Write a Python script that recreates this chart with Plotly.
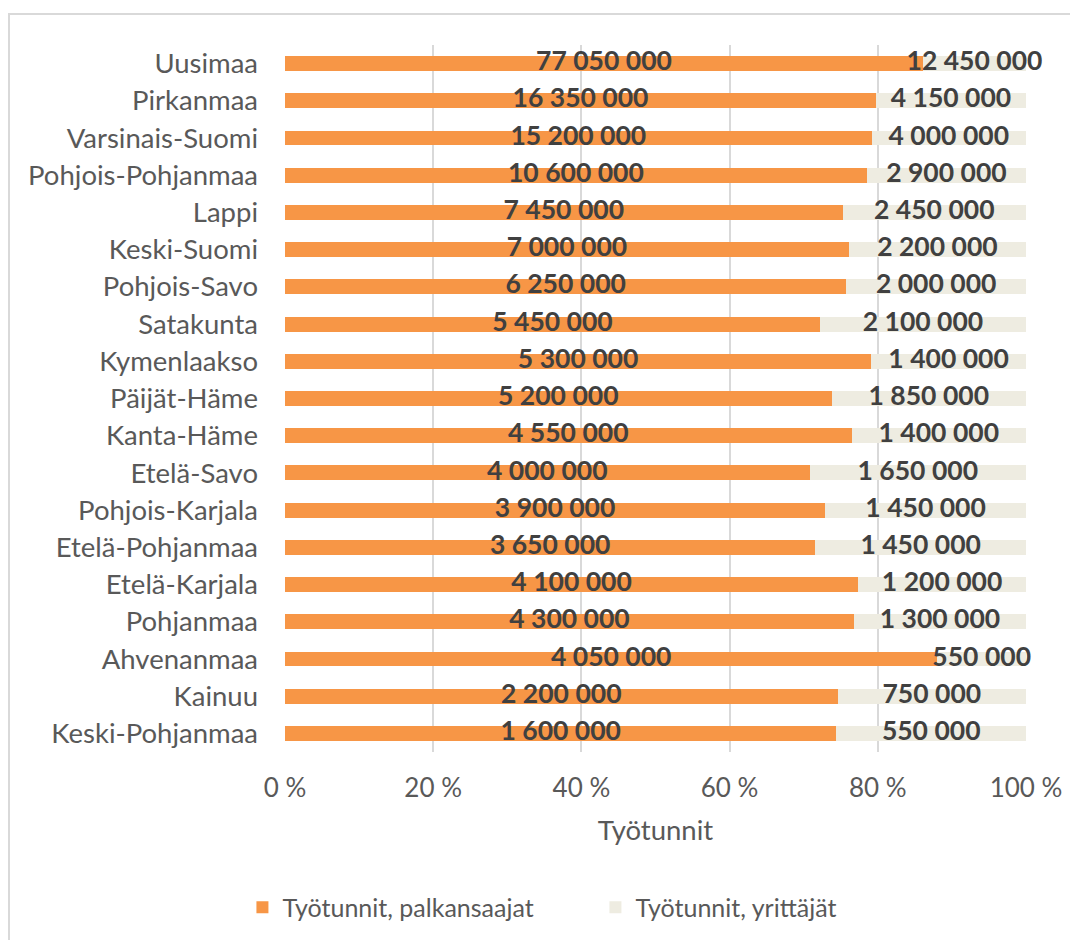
import plotly.graph_objects as go

regions = ["Uusimaa", "Pirkanmaa", "Varsinais-Suomi", "Pohjois-Pohjanmaa", "Lappi",
           "Keski-Suomi", "Pohjois-Savo", "Satakunta", "Kymenlaakso", "Päijät-Häme",
           "Kanta-Häme", "Etelä-Savo", "Pohjois-Karjala", "Etelä-Pohjanmaa",
           "Etelä-Karjala", "Pohjanmaa", "Ahvenanmaa", "Kainuu", "Keski-Pohjanmaa"]
palkansaajat = [77050000, 16350000, 15200000, 10600000, 7450000,
                7000000, 6250000, 5450000, 5300000, 5200000,
                4550000, 4000000, 3900000, 3650000,
                4100000, 4300000, 4050000, 2200000, 1600000]
yrittajat = [12450000, 4150000, 4000000, 2900000, 2450000,
             2200000, 2000000, 2100000, 1400000, 1850000,
             1400000, 1650000, 1450000, 1450000,
             1200000, 1300000, 550000, 750000, 550000]
tick_vals = [0, 20, 40, 60, 80, 100]
tick_text = ["0 %", "20 %", "40 %", "60 %", "80 %", "100 %"]


def fmt(v):
    return f"{v:,}".replace(",", " ")


FONT = "Lato, 'Open Sans', sans-serif"
GREY = "#595959"
label_font = dict(family=FONT, size=26.5, color="#404040", weight="bold")

# shares (percent) for label placement at the centre of each stacked segment
totals = [p + y for p, y in zip(palkansaajat, yrittajat)]
palk_pct = [100 * p / t for p, t in zip(palkansaajat, totals)]
yrit_pct = [100 * y / t for y, t in zip(yrittajat, totals)]
palk_mid = [s / 2 for s in palk_pct]
yrit_mid = [p + s / 2 for p, s in zip(palk_pct, yrit_pct)]

fig = go.Figure()
fig.add_trace(go.Bar(
    y=regions, x=palkansaajat, orientation="h", name="Työtunnit, palkansaajat",
    marker=dict(color="#F79646", line=dict(width=0)),
    textposition="none", hoverinfo="skip"))
fig.add_trace(go.Bar(
    y=regions, x=yrittajat, orientation="h", name="Työtunnit, yrittäjät",
    marker=dict(color="#EEECE1", line=dict(width=0)),
    textposition="none", hoverinfo="skip"))
fig.add_trace(go.Scatter(
    y=regions, x=palk_mid, mode="text", text=[fmt(v) for v in palkansaajat],
    textposition="middle center", textfont=label_font, showlegend=False,
    cliponaxis=False, hoverinfo="skip"))
fig.add_trace(go.Scatter(
    y=regions, x=yrit_mid, mode="text", text=[fmt(v) for v in yrittajat],
    textposition="middle center", textfont=label_font, showlegend=False,
    cliponaxis=False, hoverinfo="skip"))

fig.update_layout(
    barmode="stack", barnorm="percent", bargap=0.6,
    width=1070, height=932,
    margin=dict(l=277, r=52, t=37, b=188),
    paper_bgcolor="white", plot_bgcolor="white",
    font=dict(family=FONT, size=25, color=GREY),
    legend=dict(orientation="h", xref="container", yref="container",
                x=0.549, xanchor="center", y=0.035, yanchor="middle",
                font=dict(size=25, color=GREY), traceorder="normal",
                itemwidth=30, entrywidthmode="pixels", entrywidth=308),
    xaxis=dict(range=[0, 100], tickvals=tick_vals, ticktext=tick_text,
               showgrid=True, gridcolor="#D9D9D9", gridwidth=1.5,
               zeroline=False, showline=False, ticks="", ticklabelstandoff=18,
               tickfont=dict(size=26, color=GREY),
               title=dict(text="Työtunnit", font=dict(size=27.5, color=GREY), standoff=18)),
    yaxis=dict(range=[len(regions) - 0.5, -0.5], showgrid=False, zeroline=False, ticks="",
               ticklabelstandoff=26, tickfont=dict(size=27.5, color=GREY)),
    shapes=[dict(type="rect", xref="paper", yref="paper",
                 x0=-0.3725, x1=1.2, y0=-0.4, y1=1.0438,
                 line=dict(color="#D9D9D9", width=2), fillcolor="rgba(0,0,0,0)", layer="below")],
)

fig.write_html("out.html")
